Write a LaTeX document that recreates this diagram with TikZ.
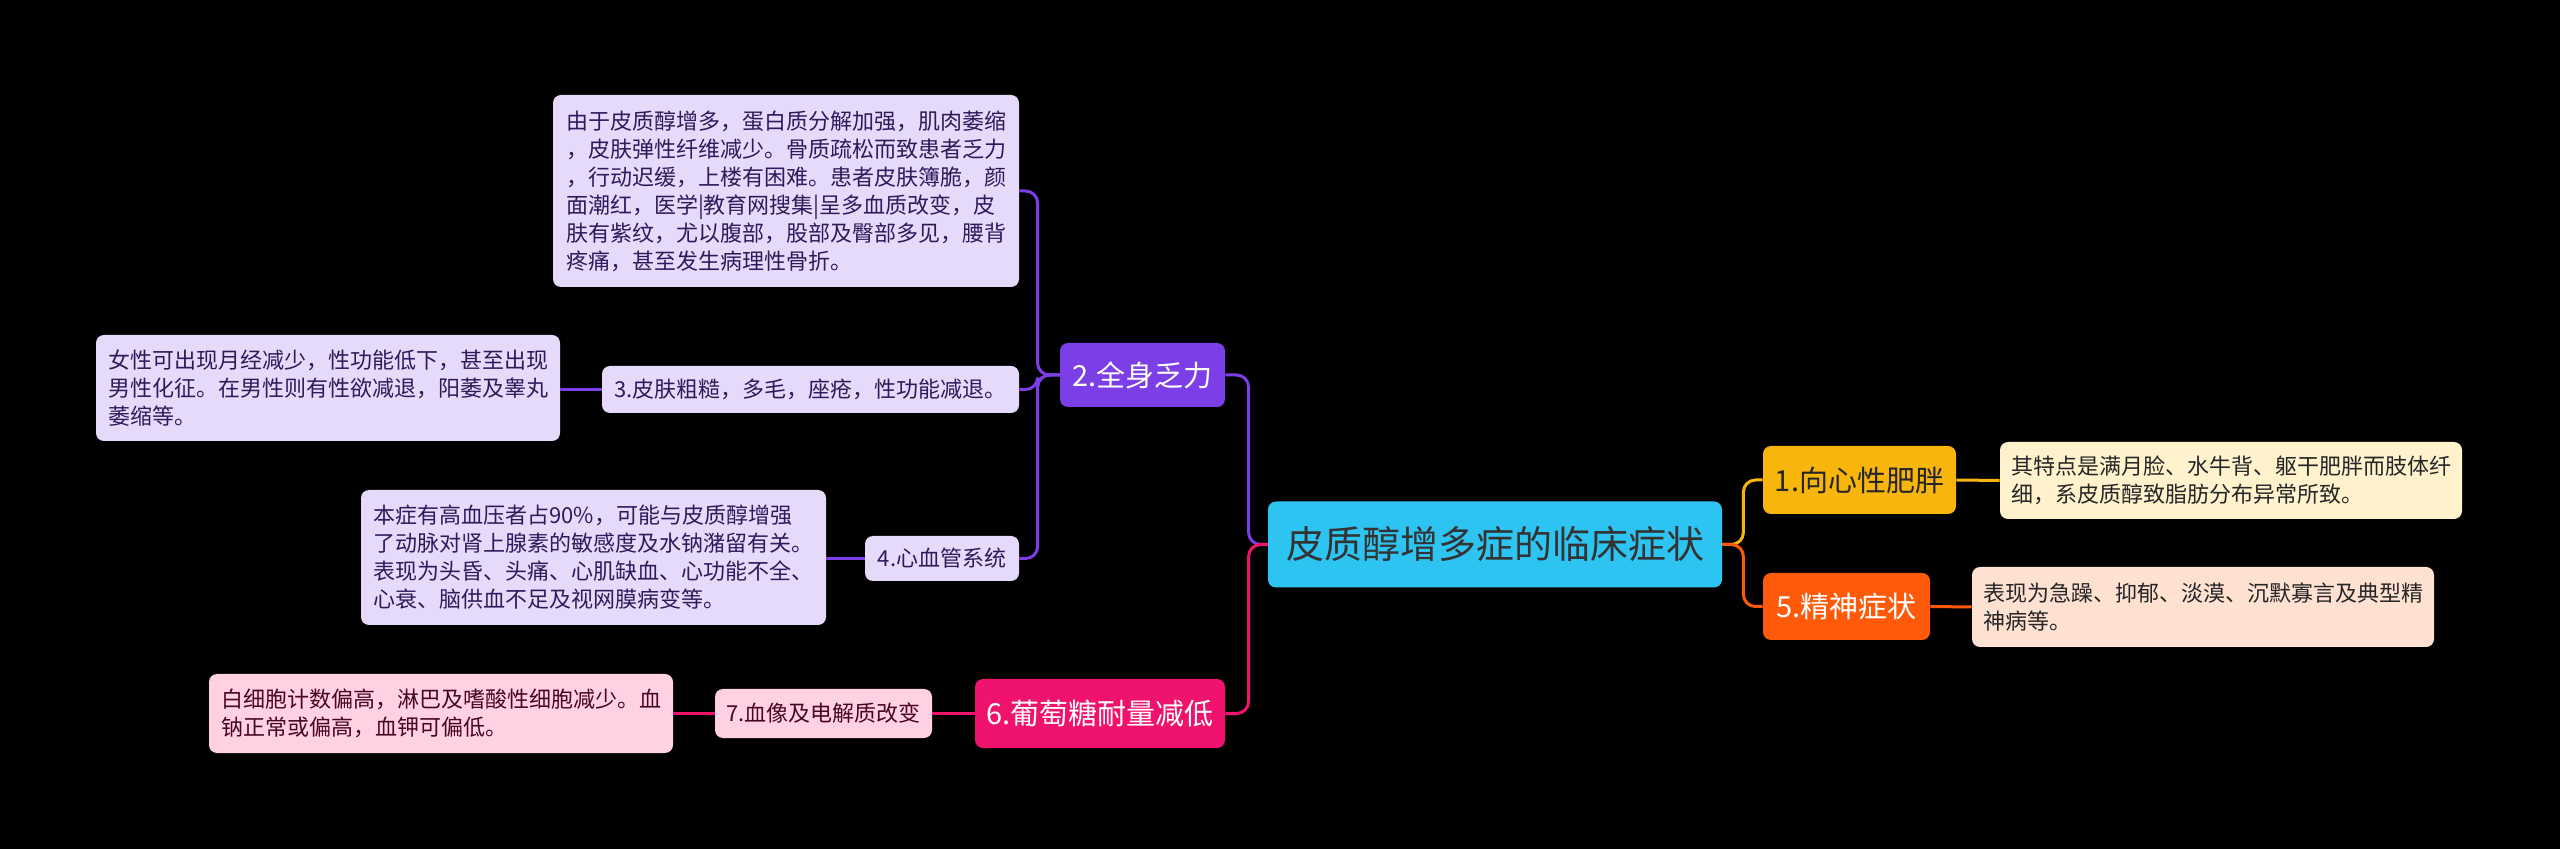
\documentclass[tikz,border=0pt]{standalone}
\usepackage{fontspec}
\setmainfont{Noto Sans CJK SC}

\definecolor{rootcol}{HTML}{2EC4F2}
\definecolor{ambercol}{HTML}{F8B60C}
\definecolor{creamcol}{HTML}{FFF2CD}
\definecolor{orangecol}{HTML}{FF5A0A}
\definecolor{peachcol}{HTML}{FFE1D2}
\definecolor{purplecol}{HTML}{7C3EE6}
\definecolor{lavcol}{HTML}{E5DAFA}
\definecolor{pinkcol}{HTML}{F0136D}
\definecolor{lpinkcol}{HTML}{FFD1E2}

\tikzset{
  box/.style={rounded corners=4pt, inner sep=0pt, align=left},
  rootbox/.style={box, fill=rootcol, text=black!80, font=\fontsize{19}{23}\selectfont},
  bigbox/.style={box, font=\fontsize{14.5}{18}\selectfont},
  smallbox/.style={box, font=\fontsize{11}{14}\selectfont},
  link/.style={line width=1.5pt, rounded corners=6pt},
}

\begin{document}
\begin{tikzpicture}[x=0.5pt,y=-0.5pt]
\fill[black] (0,0) rectangle (2560,849);

\node[rootbox, minimum width=227pt, minimum height=43pt] (root) at (1495,544.5) {皮质醇增多症的临床症状};

\node[bigbox, fill=ambercol, text=black!85, minimum width=96.5pt, minimum height=34pt] (fat) at (1859.5,480) {1.向心性肥胖};
\node[smallbox, fill=creamcol, text=black!85, minimum width=231pt, minimum height=38.5pt] (fatd) at (2231,480.5) {其特点是满月脸、水牛背、躯干肥胖而肢体纤\\细，系皮质醇致脂肪分布异常所致。};
\node[bigbox, fill=orangecol, text=white, minimum width=83.5pt, minimum height=33.5pt] (mind) at (1846.5,606.5) {5.精神症状};
\node[smallbox, fill=peachcol, text=black!85, minimum width=231pt, minimum height=40pt] (mindd) at (2203,607) {表现为急躁、抑郁、淡漠、沉默寡言及典型精\\神病等。};

\node[bigbox, fill=purplecol, text=white, minimum width=82.5pt, minimum height=32pt] (weak) at (1142.5,375) {2.全身乏力};
\node[smallbox, fill=lavcol, text=purplecol!40!black, minimum width=233pt, minimum height=96pt] (weakd) at (786,191) {由于皮质醇增多，蛋白质分解加强，肌肉萎缩\\，皮肤弹性纤维减少。骨质疏松而致患者乏力\\，行动迟缓，上楼有困难。患者皮肤簿脆，颜\\面潮红，医学|教育网搜集|呈多血质改变，皮\\肤有紫纹，尤以腹部，股部及臀部多见，腰背\\疼痛，甚至发生病理性骨折。};
\node[smallbox, fill=lavcol, text=purplecol!40!black, minimum width=208.5pt, minimum height=23.5pt] (skin) at (810.5,389.5) {3.皮肤粗糙，多毛，座疮，性功能减退。};
\node[smallbox, fill=lavcol, text=purplecol!40!black, minimum width=232pt, minimum height=53pt] (skind) at (328,388) {女性可出现月经减少，性功能低下，甚至出现\\男性化征。在男性则有性欲减退，阳萎及睾丸\\萎缩等。};
\node[smallbox, fill=lavcol, text=purplecol!40!black, minimum width=77pt, minimum height=22.5pt] (heart) at (942,558.5) {4.心血管系统};
\node[smallbox, fill=lavcol, text=purplecol!40!black, minimum width=232.5pt, minimum height=67.5pt] (heartd) at (593.5,557.5) {本症有高血压者占90\%，可能与皮质醇增强\\了动脉对肾上腺素的敏感度及水钠潴留有关。\\表现为头昏、头痛、心肌缺血、心功能不全、\\心衰、脑供血不足及视网膜病变等。};

\node[bigbox, fill=pinkcol, text=white, minimum width=125pt, minimum height=34.5pt] (sugar) at (1100,713.5) {6.葡萄糖耐量减低};
\node[smallbox, fill=lpinkcol, text=pinkcol!30!black, minimum width=108.5pt, minimum height=24.5pt] (blood) at (823.5,713.5) {7.血像及电解质改变};
\node[smallbox, fill=lpinkcol, text=pinkcol!30!black, minimum width=232pt, minimum height=39.5pt] (bloodd) at (441,713.5) {白细胞计数偏高，淋巴及嗜酸性细胞减少。血\\钠正常或偏高，血钾可偏低。};

% right side
\draw[link, ambercol] (root.east) -- ++(21,0) |- (fat.west);
\draw[link, orangecol] (root.east) -- ++(21,0) |- (mind.west);
\draw[link, ambercol] (fat.east) -- (fatd.west);
\draw[link, orangecol] (mind.east) -- (mindd.west);

% left side
\draw[link, purplecol] (root.west) -- ++(-19,0) |- (weak.east);
\draw[link, pinkcol] (root.west) -- ++(-19,0) |- (sugar.east);
\draw[link, purplecol] (weak.west) -- ++(-22,0) |- (weakd.east);
\draw[link, purplecol] (weak.west) -- ++(-22,0) |- (skin.east);
\draw[link, purplecol] (weak.west) -- ++(-22,0) |- (heart.east);
\draw[link, purplecol] (skin.west) -- (skin.west -| skind.east);
\draw[link, purplecol] (heart.west) -- (heart.west -| heartd.east);
\draw[link, pinkcol] (sugar.west) -- (blood.east);
\draw[link, pinkcol] (blood.west) -- (bloodd.east);
\end{tikzpicture}
\end{document}
